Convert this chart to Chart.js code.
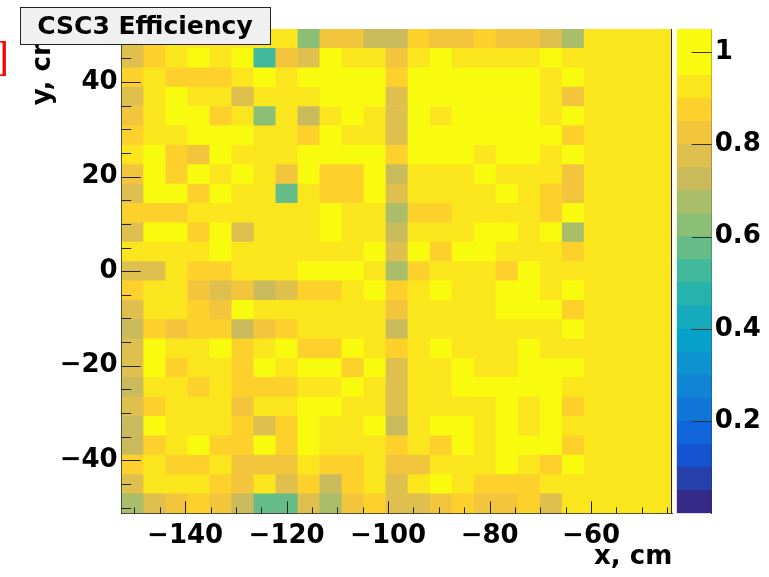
<!DOCTYPE html>
<html><head><meta charset="utf-8">
<script src="https://cdn.jsdelivr.net/npm/chart.js@4.4.1/dist/chart.umd.min.js"></script>
<style>
html,body{margin:0;padding:0;background:#fff;}
#wrap{position:relative;width:769px;height:577px;overflow:hidden;background:#fff;}
canvas{position:absolute;top:0;}
</style></head><body>
<div id="wrap">
<canvas id="main" width="769" height="577" style="left:0"></canvas>
<canvas id="cbar" width="95" height="577" style="left:674px"></canvas>
</div>
<script>
// ---- histogram binning ----
const xRange = [-152.5, -44];
const yRange = [-51.2, 51.2];
const nBinsX = 25;
const nBinsY = 25;

// ---- tick labels ----
const xTickLabels = [-140, -120, -100, -80, -60];
const yTickLabels = [-40, -20, 0, 20, 40];
const zTickLabels = [0.2, 0.4, 0.6, 0.8, 1];
const zRange = [0, 1.05];
const zBandWidth = 0.05;

// ---- efficiency per cell: rows from top (high y) to bottom, columns from low x to high x ----
const effRows = [
 [0.78,0.88,0.93,0.93,0.93,0.93,0.93, 0.93,0.63,0.83,0.83,0.73,0.73,0.88, 0.83,0.83,0.88,0.83,0.83,0.78,0.68, 0.93,0.93,0.93,0.93],
 [0.78,0.88,0.93,0.98,0.93,0.98,0.53, 0.83,0.78,0.98,0.93,0.93,0.83,0.93, 0.98,0.93,0.93,0.93,0.93,0.98,0.93, 0.93,0.93,0.93,0.93],
 [0.88,0.93,0.88,0.88,0.88,0.93,0.98, 0.93,0.98,0.98,0.98,0.98,0.88,0.98, 0.98,0.98,0.98,0.98,0.98,0.93,0.98, 0.93,0.93,0.93,0.93],
 [0.78,0.93,0.98,0.93,0.93,0.78,0.93, 0.93,0.93,0.98,0.98,0.98,0.78,0.98, 0.98,0.98,0.98,0.98,0.98,0.93,0.83, 0.93,0.93,0.93,0.93],
 [0.83,0.93,0.98,0.98,0.88,0.93,0.63, 0.93,0.73,0.93,0.98,0.93,0.78,0.98, 0.93,0.98,0.98,0.98,0.98,0.93,0.98, 0.93,0.93,0.93,0.93],
 [0.88,0.93,0.93,0.98,0.98,0.98,0.93, 0.93,0.88,0.98,0.93,0.93,0.78,0.98, 0.98,0.98,0.98,0.98,0.98,0.98,0.88, 0.93,0.93,0.93,0.93],
 [0.93,0.98,0.88,0.83,0.98,0.93,0.93, 0.93,0.98,0.98,0.98,0.98,0.88,0.98, 0.98,0.98,0.93,0.98,0.98,0.93,0.98, 0.93,0.93,0.93,0.93],
 [0.83,0.98,0.88,0.98,0.93,0.98,0.93, 0.83,0.98,0.88,0.88,0.98,0.73,0.93, 0.93,0.93,0.98,0.93,0.93,0.93,0.83, 0.93,0.93,0.93,0.93],
 [0.78,0.98,0.98,0.88,0.98,0.93,0.93, 0.58,0.93,0.88,0.88,0.98,0.78,0.93, 0.93,0.93,0.93,0.98,0.93,0.88,0.83, 0.93,0.93,0.93,0.93],
 [0.88,0.88,0.88,0.93,0.93,0.93,0.93, 0.93,0.93,0.98,0.93,0.93,0.68,0.88, 0.88,0.93,0.93,0.93,0.93,0.88,0.98, 0.93,0.93,0.93,0.93],
 [0.78,0.98,0.98,0.88,0.98,0.78,0.93, 0.93,0.93,0.98,0.93,0.93,0.73,0.93, 0.93,0.93,0.98,0.98,0.93,0.98,0.68, 0.93,0.93,0.93,0.93],
 [0.93,0.93,0.93,0.93,0.98,0.93,0.93, 0.93,0.93,0.93,0.93,0.98,0.78,0.98, 0.88,0.98,0.98,0.93,0.93,0.93,0.88, 0.93,0.93,0.93,0.93],
 [0.78,0.78,0.93,0.88,0.88,0.93,0.93, 0.93,0.98,0.98,0.98,0.93,0.68,0.88, 0.93,0.93,0.93,0.88,0.98,0.93,0.93, 0.93,0.93,0.93,0.93],
 [0.88,0.93,0.93,0.83,0.78,0.83,0.73, 0.78,0.88,0.88,0.93,0.98,0.88,0.93, 0.98,0.93,0.93,0.98,0.98,0.93,0.98, 0.93,0.93,0.93,0.93],
 [0.78,0.93,0.93,0.88,0.83,0.98,0.93, 0.93,0.93,0.93,0.93,0.93,0.83,0.93, 0.93,0.93,0.93,0.98,0.98,0.98,0.88, 0.93,0.93,0.93,0.93],
 [0.73,0.88,0.83,0.88,0.88,0.73,0.83, 0.88,0.93,0.93,0.93,0.93,0.73,0.93, 0.93,0.93,0.93,0.93,0.93,0.93,0.98, 0.93,0.93,0.93,0.93],
 [0.78,0.98,0.93,0.93,0.98,0.88,0.93, 0.98,0.88,0.88,0.98,0.93,0.88,0.93, 0.98,0.93,0.93,0.93,0.98,0.93,0.93, 0.93,0.93,0.93,0.93],
 [0.78,0.98,0.88,0.93,0.93,0.88,0.98, 0.93,0.98,0.98,0.88,0.98,0.78,0.93, 0.93,0.98,0.93,0.93,0.98,0.98,0.98, 0.93,0.93,0.93,0.93],
 [0.73,0.93,0.93,0.88,0.93,0.88,0.88, 0.88,0.93,0.93,0.98,0.93,0.78,0.93, 0.93,0.98,0.98,0.98,0.98,0.98,0.93, 0.93,0.93,0.93,0.93],
 [0.78,0.88,0.93,0.93,0.93,0.83,0.93, 0.93,0.98,0.98,0.93,0.93,0.78,0.93, 0.93,0.93,0.93,0.98,0.93,0.98,0.88, 0.93,0.93,0.93,0.93],
 [0.73,0.98,0.93,0.93,0.93,0.88,0.78, 0.88,0.98,0.93,0.93,0.98,0.73,0.93, 0.98,0.98,0.93,0.98,0.93,0.98,0.93, 0.93,0.93,0.93,0.93],
 [0.73,0.88,0.93,0.98,0.88,0.88,0.98, 0.88,0.98,0.93,0.93,0.93,0.88,0.93, 0.88,0.98,0.93,0.98,0.98,0.98,0.88, 0.93,0.93,0.93,0.93],
 [0.88,0.93,0.88,0.88,0.93,0.83,0.83, 0.83,0.93,0.88,0.88,0.93,0.83,0.83, 0.93,0.93,0.93,0.98,0.93,0.88,0.98, 0.93,0.93,0.93,0.93],
 [0.78,0.93,0.93,0.93,0.88,0.83,0.93, 0.78,0.88,0.73,0.88,0.93,0.78,0.93, 0.98,0.93,0.88,0.88,0.88,0.93,0.93, 0.93,0.93,0.93,0.93],
 [0.68,0.78,0.83,0.88,0.83,0.73,0.58, 0.58,0.78,0.68,0.83,0.88,0.78,0.78, 0.83,0.88,0.83,0.83,0.88,0.78,0.93, 0.93,0.93,0.93,0.93]
];

// ---- ROOT kBird palette ----
const birdStops = [0, 0.125, 0.25, 0.375, 0.5, 0.625, 0.75, 0.875, 1];
const birdR = [0.2082, 0.0592, 0.0780, 0.0232, 0.1802, 0.5301, 0.8186, 0.9956, 0.9764];
const birdG = [0.1664, 0.3599, 0.5041, 0.6419, 0.7178, 0.7492, 0.7328, 0.7862, 0.9832];
const birdB = [0.5293, 0.8684, 0.8385, 0.7914, 0.6425, 0.4662, 0.3499, 0.1968, 0.0539];
function bird(f) {
  f = Math.max(0, Math.min(1, f));
  let i = 0;
  while (i < birdStops.length - 2 && f > birdStops[i + 1]) i++;
  const t = (f - birdStops[i]) / (birdStops[i + 1] - birdStops[i]);
  const c = a => Math.round(255 * (a[i] + t * (a[i + 1] - a[i])));
  return `rgb(${c(birdR)},${c(birdG)},${c(birdB)})`;
}
const nBands = 20;
function bandOf(v) { return Math.min(nBands - 1, Math.max(0, Math.floor(v / zBandWidth + 1e-9))); }
function bandColor(b) { return bird(b / (nBands - 1)); }

const FONT = {family: 'DejaVu Sans', weight: 'bold', size: 26};
const fmt = v => (v < 0 ? '\u2212' + Math.abs(v) : String(v));

// ---- build cells ----
const xBin = (xRange[1] - xRange[0]) / nBinsX;
const yBin = (yRange[1] - yRange[0]) / nBinsY;
const cells = [], cellColors = [];
effRows.forEach((row, r) => {
  const yHi = yRange[1] - r * yBin;
  row.forEach((v, c) => {
    cells.push({x: xRange[0] + (c + 0.5) * xBin, y: [yHi - yBin, yHi]});
    cellColors.push(bandColor(bandOf(v)));
  });
});

const insideTicks = {
  id: 'insideTicks',
  afterDatasetsDraw(chart) {
    const {ctx, chartArea: a, scales: {x, y}} = chart;
    ctx.save();
    ctx.strokeStyle = '#222';
    ctx.lineWidth = 1;
    ctx.beginPath();
    x.ticks.forEach(t => {
      const px = Math.round(x.getPixelForValue(t.value)) + 0.5;
      const len = xTickLabels.includes(t.value) ? 12 : 6;
      ctx.moveTo(px, a.bottom); ctx.lineTo(px, a.bottom - len);
    });
    y.ticks.forEach(t => {
      const py = Math.round(y.getPixelForValue(t.value)) + 0.5;
      const len = yTickLabels.includes(t.value) ? 19 : 9.5;
      ctx.moveTo(a.left, py); ctx.lineTo(a.left + len, py);
    });
    ctx.moveTo(Math.round(a.right) - 0.5, a.top); ctx.lineTo(Math.round(a.right) - 0.5, a.bottom);
    ctx.stroke();
    ctx.restore();
  }
};

const titleBox = {
  id: 'titleBox',
  afterDraw(chart) {
    const ctx = chart.ctx;
    ctx.save();
    ctx.fillStyle = '#f0f0f0';
    ctx.fillRect(20, 7, 250, 37);
    ctx.strokeStyle = '#222';
    ctx.lineWidth = 1;
    ctx.strokeRect(20.5, 7.5, 250, 37);
    ctx.fillStyle = '#000';
    ctx.font = 'bold 25px "DejaVu Sans"';
    ctx.textAlign = 'center';
    ctx.textBaseline = 'alphabetic';
    ctx.fillText('CSC3 Efficiency', 145, 34);
    ctx.fillStyle = '#ff0000';
    ctx.font = '42px "Liberation Serif"';
    ctx.textAlign = 'right';
    ctx.fillText(']', 9, 70);
    ctx.restore();
  }
};

new Chart(document.getElementById('main'), {
  type: 'bar',
  data: {datasets: [{data: cells, backgroundColor: cellColors, borderWidth: 0, grouped: false, barPercentage: 1, categoryPercentage: 1}]},
  options: {
    responsive: false, animation: false, devicePixelRatio: 1,
    layout: {padding: {left: 0, top: 29, right: 96.7, bottom: 0}},
    plugins: {legend: {display: false}, tooltip: {enabled: false}},
    scales: {
      x: {
        type: 'linear', min: xRange[0], max: xRange[1], offset: false,
        grid: {display: false, drawTicks: false, offset: false},
        border: {display: true, color: '#333', width: 1},
        ticks: {stepSize: 5, includeBounds: false, autoSkip: false, maxRotation: 0, minRotation: 0, padding: 7, color: '#000', font: FONT,
                callback: v => xTickLabels.includes(v) ? fmt(v) : ''},
        title: {display: true, text: 'x, cm', align: 'end', color: '#000', font: FONT, padding: {top: 0, bottom: 4}},
        afterFit: s => { s.height = 63.7; }
      },
      y: {
        type: 'linear', min: yRange[0], max: yRange[1],
        grid: {display: false, drawTicks: false},
        border: {display: true, color: '#333', width: 1},
        ticks: {stepSize: 5, includeBounds: false, autoSkip: false, padding: 4, color: '#000', font: FONT,
                callback: v => yTickLabels.includes(v) ? fmt(v) : ''},
        title: {display: true, text: 'y, cm', align: 'end', color: '#000', font: FONT, padding: {top: 28, bottom: 0}},
        afterFit: s => { s.width = 121.7; }
      }
    }
  },
  plugins: [insideTicks, titleBox]
});

// ---- colour bar ----
const bands = [];
for (let b = 0; b < nBands; b++) {
  const lo = b * zBandWidth;
  const hi = b === nBands - 1 ? zRange[1] : (b + 1) * zBandWidth;
  bands.push({lo, hi, color: bandColor(b)});
}
const cbTicks = {
  id: 'cbTicks',
  afterDatasetsDraw(chart) {
    const {ctx, chartArea: a, scales: {y}} = chart;
    ctx.save();
    ctx.strokeStyle = '#333';
    ctx.lineWidth = 1;
    ctx.beginPath();
    zTickLabels.forEach(v => {
      const py = Math.round(y.getPixelForValue(v)) + 0.5;
      ctx.moveTo(a.right, py); ctx.lineTo(a.right - 20, py);
    });
    ctx.stroke();
    ctx.restore();
  }
};
new Chart(document.getElementById('cbar'), {
  type: 'bar',
  data: {labels: ['z'], datasets: bands.map(b => ({data: [[b.lo, b.hi]], backgroundColor: b.color, borderWidth: 0, grouped: false, barPercentage: 1, categoryPercentage: 1}))},
  options: {
    responsive: false, animation: false, devicePixelRatio: 1,
    layout: {padding: {left: 2.7, top: 29, right: 0, bottom: 63.7}},
    plugins: {legend: {display: false}, tooltip: {enabled: false}},
    scales: {
      x: {display: false},
      y: {
        position: 'right', min: zRange[0], max: zRange[1],
        grid: {display: false, drawTicks: false},
        border: {display: true, color: '#333', width: 1},
        ticks: {stepSize: 0.2, includeBounds: false, autoSkip: false, padding: 3, color: '#000', font: FONT,
                callback: v => zTickLabels.some(t => Math.abs(t - v) < 1e-6) ? String(parseFloat(v.toFixed(1))) : ''},
        afterFit: s => { s.width = 57.3; }
      }
    }
  },
  plugins: [cbTicks]
});
</script>
</body></html>
